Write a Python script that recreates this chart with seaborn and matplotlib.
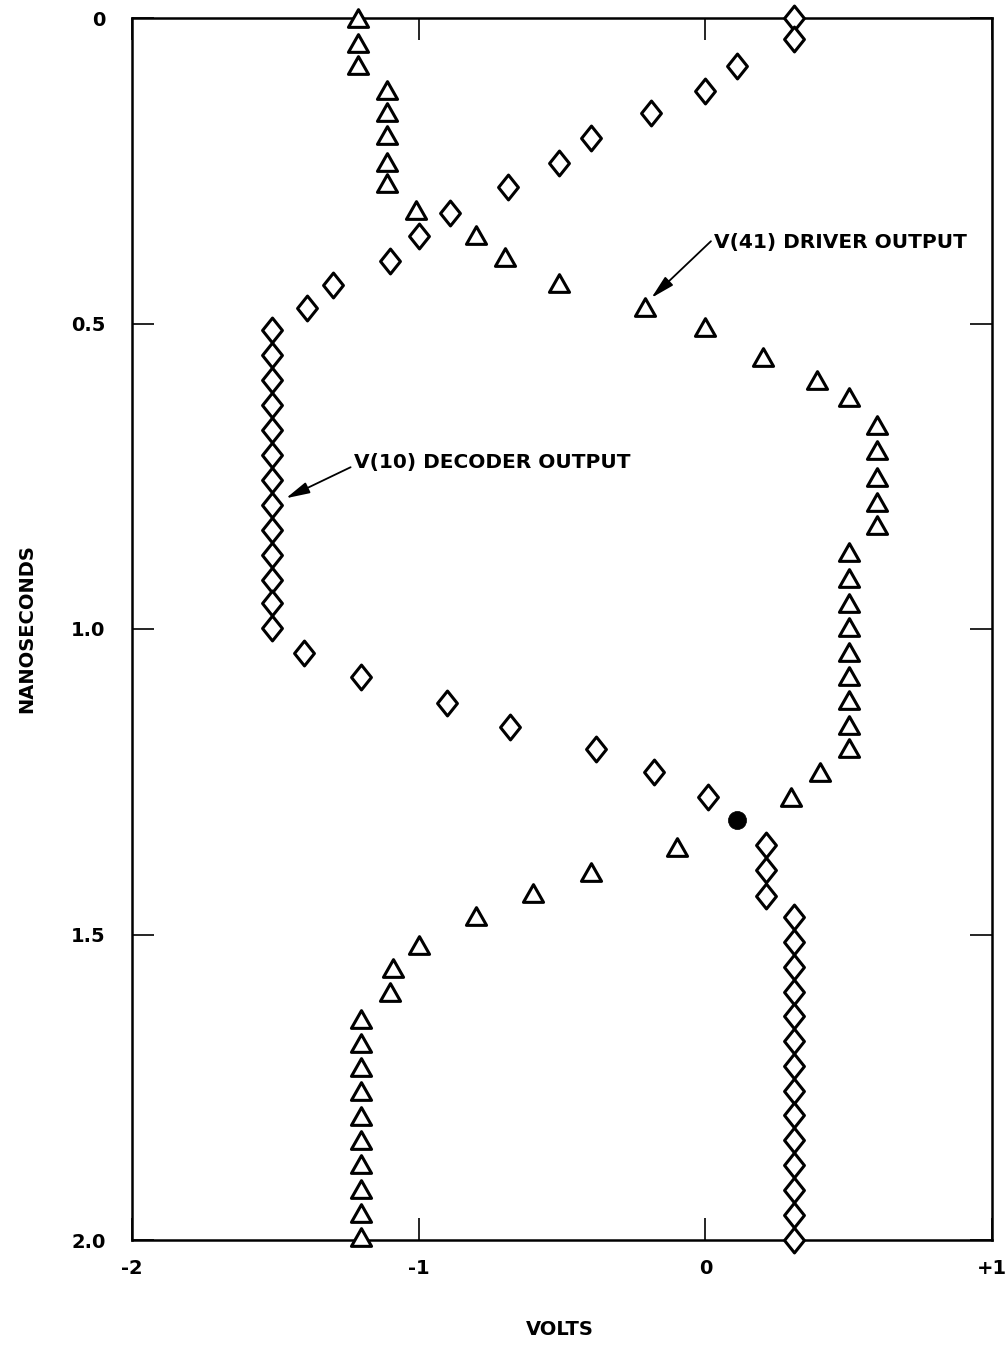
import matplotlib
matplotlib.use("Agg")
import matplotlib.pyplot as plt
from matplotlib.path import Path
import seaborn as sns
import pandas as pd

# ---- data ----
driver_ns = [0.000, 0.041, 0.077, 0.118, 0.154, 0.191, 0.236, 0.270, 0.314, 0.355,
             0.391, 0.434, 0.473, 0.506, 0.555, 0.592, 0.620, 0.666, 0.707, 0.751,
             0.792, 0.830, 0.874, 0.917, 0.957, 0.997, 1.038, 1.077, 1.116, 1.157,
             1.195, 1.234, 1.275, 1.357, 1.398, 1.432, 1.470, 1.517, 1.555, 1.594,
             1.638, 1.678, 1.717, 1.756, 1.797, 1.836, 1.876, 1.917, 1.956, 1.995]
driver_v = [-1.21, -1.21, -1.21, -1.11, -1.11, -1.11, -1.11, -1.11, -1.01, -0.80,
            -0.70, -0.51, -0.21, 0.00, 0.20, 0.39, 0.50, 0.60, 0.60, 0.60,
            0.60, 0.60, 0.50, 0.50, 0.50, 0.50, 0.50, 0.50, 0.50, 0.50,
            0.50, 0.40, 0.30, -0.10, -0.40, -0.60, -0.80, -1.00, -1.09, -1.10,
            -1.20, -1.20, -1.20, -1.20, -1.20, -1.20, -1.20, -1.20, -1.20, -1.20]

decoder_ns = [0.000, 0.034, 0.079, 0.119, 0.156, 0.196, 0.237, 0.277, 0.319, 0.357,
              0.398, 0.437, 0.475, 0.511, 0.552, 0.593, 0.633, 0.674, 0.715, 0.756,
              0.797, 0.838, 0.879, 0.920, 0.957, 0.998, 1.039, 1.079, 1.121, 1.160,
              1.196, 1.234, 1.275, 1.353, 1.394, 1.437, 1.471, 1.512, 1.553, 1.594,
              1.634, 1.675, 1.715, 1.756, 1.796, 1.837, 1.877, 1.918, 1.959, 2.000]
decoder_v = [0.31, 0.31, 0.11, 0.00, -0.19, -0.40, -0.51, -0.69, -0.89, -1.00,
             -1.10, -1.30, -1.39, -1.51, -1.51, -1.51, -1.51, -1.51, -1.51, -1.51,
             -1.51, -1.51, -1.51, -1.51, -1.51, -1.51, -1.40, -1.20, -0.90, -0.68,
             -0.38, -0.18, 0.01, 0.21, 0.21, 0.21, 0.31, 0.31, 0.31, 0.31,
             0.31, 0.31, 0.31, 0.31, 0.31, 0.31, 0.31, 0.31, 0.31, 0.31]

cross_ns = [1.313]
cross_v = [0.11]

x_ticks = [-2, -1, 0, 1]
x_ticklabels = ["-2", "-1", "0", "+1"]
y_ticks = [0, 0.5, 1.0, 1.5, 2.0]
y_ticklabels = ["0", "0.5", "1.0", "1.5", "2.0"]

driver_df = pd.DataFrame({"volts": driver_v, "ns": driver_ns})
decoder_df = pd.DataFrame({"volts": decoder_v, "ns": decoder_ns})
cross_df = pd.DataFrame({"volts": cross_v, "ns": cross_ns})

# ---- style ----
sns.set_style("ticks")
plt.rcParams["font.family"] = ["DejaVu Sans"]
plt.rcParams["font.weight"] = "bold"
plt.rcParams["text.color"] = "black"
plt.rcParams["axes.labelcolor"] = "black"
plt.rcParams["xtick.color"] = "black"
plt.rcParams["ytick.color"] = "black"

fig = plt.figure(figsize=(10.05, 13.45), dpi=100)
ax = fig.add_axes([132 / 1005, 1 - 1240 / 1345, 860 / 1005, 1222 / 1345])

tri = Path([(0, 0.88), (1, -0.88), (-1, -0.88), (0, 0.88)],
           [Path.MOVETO, Path.LINETO, Path.LINETO, Path.CLOSEPOLY])
dia = Path([(0, 1), (0.8, 0), (0, -1), (-0.8, 0), (0, 1)],
           [Path.MOVETO, Path.LINETO, Path.LINETO, Path.LINETO, Path.CLOSEPOLY])

sns.scatterplot(data=driver_df, x="volts", y="ns", ax=ax, marker=tri, s=210,
                color="white", edgecolor="black", linewidth=2.2,
                clip_on=False, zorder=3)
sns.scatterplot(data=decoder_df, x="volts", y="ns", ax=ax, marker=dia, s=320,
                color="white", edgecolor="black", linewidth=2.2,
                clip_on=False, zorder=4)
sns.scatterplot(data=cross_df, x="volts", y="ns", ax=ax, marker="o", s=170,
                color="black", edgecolor="black", linewidth=0.5,
                clip_on=False, zorder=5)

ax.set_xlim(-2, 1)
ax.set_ylim(2.0, 0)
ax.set_xticks(x_ticks)
ax.set_xticklabels(x_ticklabels)
ax.set_yticks(y_ticks)
ax.set_yticklabels(y_ticklabels)

for sp in ax.spines.values():
    sp.set_visible(True)
    sp.set_linewidth(1.8)
    sp.set_color("black")

ax.tick_params(axis="both", which="major", direction="in", length=16, width=1.2,
               top=True, right=True, labeltop=False, labelright=False,
               labelsize=14, colors="black")
ax.tick_params(axis="x", pad=14)
ax.tick_params(axis="y", pad=19)

ax.set_xlabel("VOLTS", fontsize=14, fontweight="bold")
ax.set_ylabel("NANOSECONDS", fontsize=14, fontweight="bold")
ax.xaxis.set_label_coords(0.497, -0.0736)
ax.xaxis.label.set_va("center")
ax.yaxis.set_label_coords(-0.122, 0.5)
ax.yaxis.label.set_va("center")

arrow_style = "-|>,head_length=0.9,head_width=0.22"
ax.annotate("V(41) DRIVER OUTPUT", xy=(-0.188, 0.458), xytext=(0.031, 0.368),
            fontsize=14.5, fontweight="bold", ha="left", va="center",
            arrowprops=dict(arrowstyle=arrow_style, color="black", lw=1.3,
                            shrinkA=0, shrinkB=0, mutation_scale=16,
                            relpos=(0.0, 0.75)))
ax.annotate("V(10) DECODER OUTPUT", xy=(-1.463, 0.786), xytext=(-1.226, 0.728),
            fontsize=14.5, fontweight="bold", ha="left", va="center",
            arrowprops=dict(arrowstyle=arrow_style, color="black", lw=1.3,
                            shrinkA=0, shrinkB=0, mutation_scale=16,
                            relpos=(0.0, 0.35)))

fig.savefig("out.png", dpi=100)
